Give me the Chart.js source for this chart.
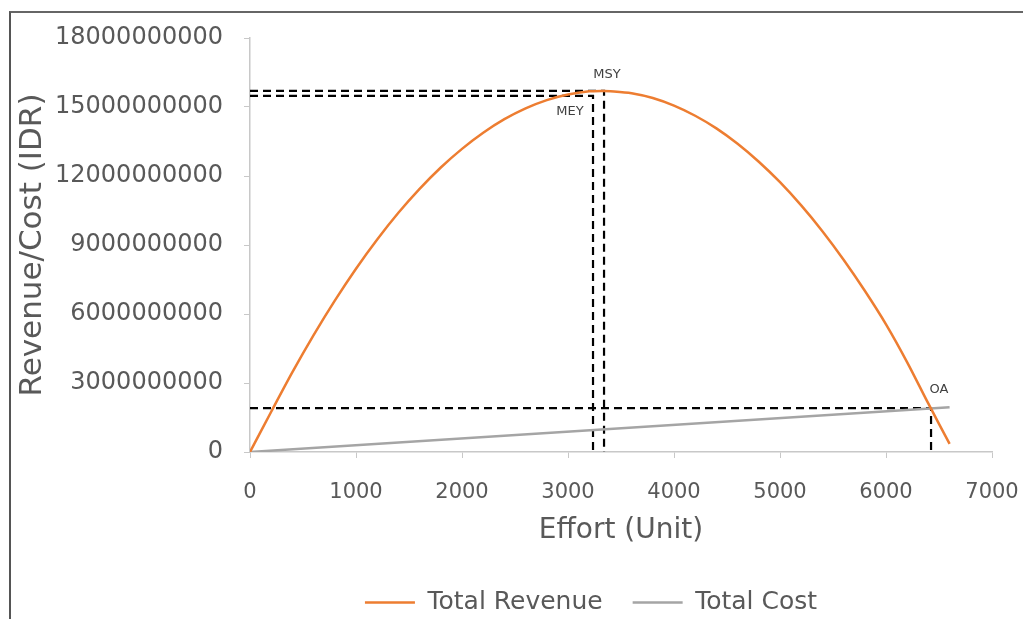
<!DOCTYPE html>
<html>
<head>
<meta charset="utf-8">
<script src="https://cdn.jsdelivr.net/npm/chart.js@4.4.1/dist/chart.umd.min.js"></script>
<style>
  html, body { margin: 0; padding: 0; background: #ffffff; }
  #wrap { position: absolute; left: 0; top: 0; width: 1023px; height: 619px; }
  #frame { position: absolute; left: 9px; top: 11px; width: 1014px; height: 608px;
           border-left: 2px solid #555; border-top: 2px solid #666; box-sizing: border-box; pointer-events: none; }
</style>
</head>
<body>
<div id="wrap">
  <canvas id="c" width="1023" height="619"></canvas>
  <div id="frame"></div>
</div>
<script>
// ---- Data ----
const effort = [0, 200, 400, 600, 800, 1000, 1200, 1400, 1600, 1800, 2000, 2200, 2400, 2600, 2800, 3000,
                3200, 3330, 3400, 3600, 3800, 4000, 4200, 4400, 4600, 4800, 5000, 5200, 5400, 5600, 5800,
                6000, 6200, 6400, 6600];
const totalRevenue = [0, 1.75e9, 3.47e9, 5.08e9, 6.58e9, 7.97e9, 9.24e9, 10.40e9, 11.44e9, 12.37e9, 13.18e9,
                13.88e9, 14.47e9, 14.94e9, 15.30e9, 15.54e9, 15.68e9, 15.70e9, 15.69e9, 15.60e9, 15.39e9,
                15.06e9, 14.62e9, 14.07e9, 13.40e9, 12.62e9, 11.73e9, 10.72e9, 9.60e9, 8.36e9, 7.01e9,
                5.55e9, 3.90e9, 2.10e9, 0.35e9];
const costEffort = [0, 6600];
const totalCost = [0, 1.95e9];

// reference points (effort, value)
const msyPoint = [3340, 15.70e9];
const meyPoint = [3236, 15.48e9];
const oaPoint  = [6425, 1.91e9];

const xTicks = [0, 1000, 2000, 3000, 4000, 5000, 6000, 7000];
const yTicks = [0, 3000000000, 6000000000, 9000000000, 12000000000, 15000000000, 18000000000];

const labels = { MSY: 'MSY', MEY: 'MEY', OA: 'OA' };

// ---- build ----
const toXY = (xs, ys) => xs.map((x, i) => ({ x: x, y: ys[i] }));
const guide = p => [{ x: 0, y: p[1] }, { x: p[0], y: p[1] }, { x: p[0], y: 0 }];

const FONT = "'DejaVu Sans', Verdana, sans-serif";
const GREY_TXT = '#595959';
const AXIS = '#c8c8c8';
const LEGEND_PAD = 30;

const dashed = {
  borderColor: '#000000', borderWidth: 2.2, borderDash: [8, 5], pointRadius: 0,
  fill: false, tension: 0
};

const annotate = {
  id: 'annotate',
  afterLayout(chart) {
    const lg = chart.legend;
    if (lg) { lg.left += 95; lg.right += 95; lg.top += 6; lg.bottom += 6; }
  },
  afterDatasetsDraw(chart) {
    const { ctx, scales: { x, y } } = chart;
    ctx.save();
    ctx.font = '13px ' + FONT;
    ctx.fillStyle = '#404040';
    ctx.textAlign = 'center';
    ctx.textBaseline = 'middle';
    ctx.fillText(labels.MSY, x.getPixelForValue(msyPoint[0]) + 3, y.getPixelForValue(msyPoint[1]) - 16);
    ctx.fillText(labels.MEY, x.getPixelForValue(meyPoint[0]) - 23, y.getPixelForValue(meyPoint[1]) + 16);
    ctx.fillText(labels.OA, x.getPixelForValue(oaPoint[0]) + 8, y.getPixelForValue(oaPoint[1]) - 18);
    ctx.restore();
  }
};

new Chart(document.getElementById('c'), {
  type: 'line',
  data: {
    datasets: [
      { label: 'Total Revenue', data: toXY(effort, totalRevenue), borderColor: '#ed7d31',
        backgroundColor: '#ed7d31', borderWidth: 2.5, pointRadius: 0, tension: 0.3, fill: false },
      { label: 'Total Cost', data: toXY(costEffort, totalCost), borderColor: '#a5a5a5',
        backgroundColor: '#a5a5a5', borderWidth: 2.5, pointRadius: 0, tension: 0, fill: false },
      Object.assign({ label: 'MSY', data: guide(msyPoint) }, dashed),
      Object.assign({ label: 'MEY', data: guide(meyPoint) }, dashed),
      Object.assign({ label: 'OA', data: guide(oaPoint) }, dashed)
    ]
  },
  options: {
    responsive: false,
    animation: false,
    layout: { padding: { top: 38, right: 31, left: 0, bottom: 0 } },
    plugins: {
      tooltip: { enabled: false },
      legend: {
        position: 'bottom',
        labels: {
          filter: item => ['Total Revenue', 'Total Cost'].includes(item.text),
          usePointStyle: true, pointStyle: 'line', pointStyleWidth: 50,
          color: GREY_TXT, font: { family: FONT, size: 25 }, padding: LEGEND_PAD
        }
      }
    },
    scales: {
      x: {
        type: 'linear', min: 0, max: 7000,
        afterBuildTicks: s => { s.ticks = xTicks.map(v => ({ value: v })); },
        afterFit: s => { s.height = 132 - LEGEND_PAD; s.paddingRight = 0; s.paddingLeft = 0; },
        ticks: { color: GREY_TXT, font: { family: FONT, size: 21 }, padding: 22, maxRotation: 0,
                 callback: v => String(v) },
        grid: { drawOnChartArea: false, drawTicks: true, tickLength: 6, color: AXIS },
        border: { display: true, color: AXIS, width: 1.5 },
        title: { display: true, text: 'Effort (Unit)', color: GREY_TXT, font: { family: FONT, size: 28 }, padding: { top: 4, bottom: 6 } }
      },
      y: {
        type: 'linear', min: 0, max: 18000000000,
        afterBuildTicks: s => { s.ticks = yTicks.map(v => ({ value: v })); },
        afterFit: s => { s.width = 250; },
        ticks: { color: GREY_TXT, font: { family: FONT, size: 24 }, padding: 21,
                 callback: v => String(v) },
        grid: { drawOnChartArea: false, drawTicks: true, tickLength: 6, color: AXIS },
        border: { display: true, color: AXIS, width: 1.5 },
        title: { display: true, text: 'Revenue/Cost (IDR)', color: GREY_TXT, font: { family: FONT, size: 31 }, padding: { top: 14, bottom: 0 } }
      }
    }
  },
  plugins: [annotate]
});
</script>
</body>
</html>
